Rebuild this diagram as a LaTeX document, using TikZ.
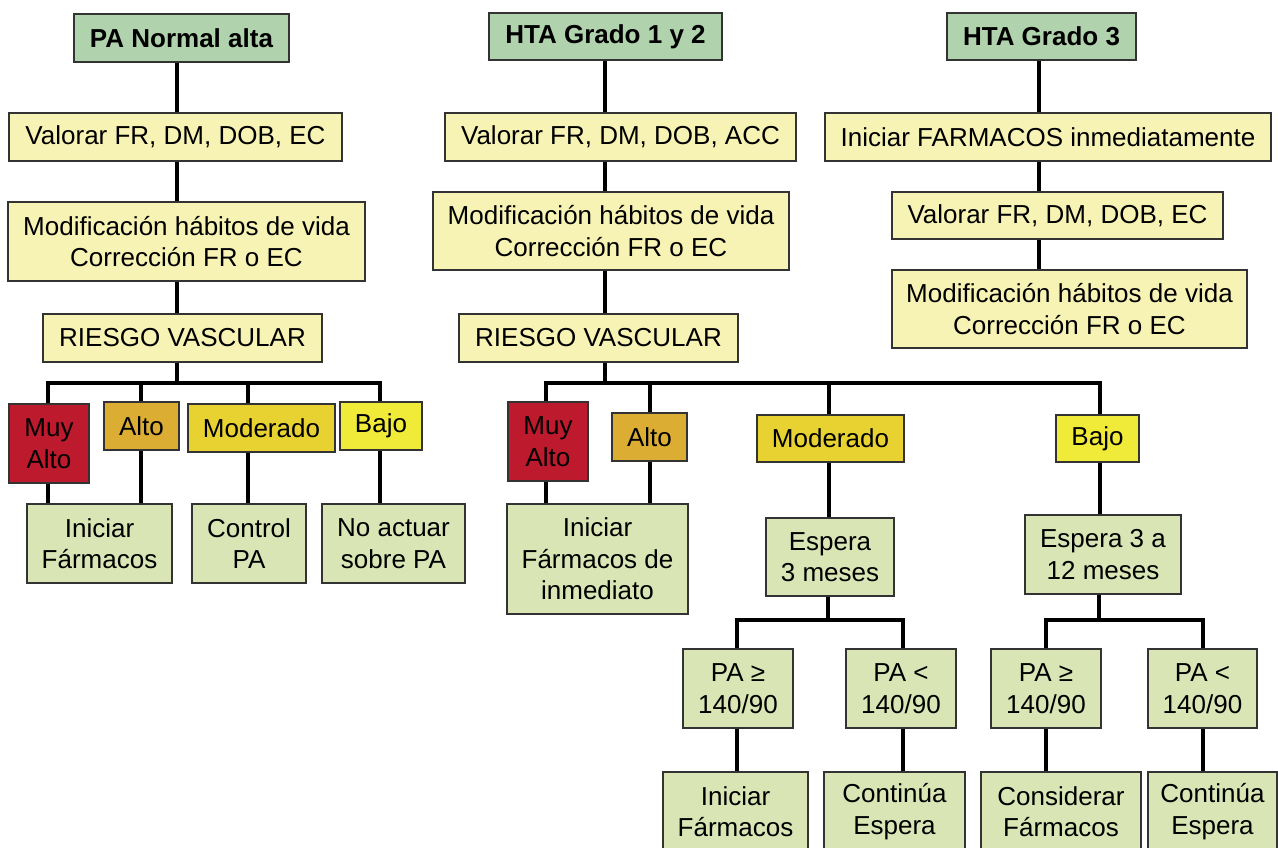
\documentclass[tikz,border=0pt]{standalone}
\usepackage{fontspec}
\setmainfont{Liberation Sans}
\newcommand{\boxfont}{\fontsize{26}{31.5}\selectfont}
\definecolor{titlegreen}{RGB}{176,210,172}
\definecolor{stepyellow}{RGB}{247,243,180}
\definecolor{resultgreen}{RGB}{217,229,180}
\definecolor{riskred}{RGB}{190,26,46}
\definecolor{riskorange}{RGB}{219,174,51}
\definecolor{riskgold}{RGB}{232,210,50}
\definecolor{risklemon}{RGB}{240,234,56}
\tikzset{
  box/.style={draw=black!80, line width=1.2pt, inner sep=0pt, align=center, font=\boxfont},
  title/.style={box, fill=titlegreen, font=\boxfont\bfseries},
  stepbox/.style={box, fill=stepyellow},
  resbox/.style={box, fill=resultgreen},
  conn/.style={line width=4pt, black, line join=miter},
  sz/.style 2 args={minimum width=#1pt, minimum height=#2pt},
}
\begin{document}
\begin{tikzpicture}[x=1pt, y=-1pt]
\clip (0,0) rectangle (1278,847);
\fill[white] (0,0) rectangle (1278,847);

% ---------- PA normal alta ----------
\node[title, sz={215}{48}] (t1) at (181.5,38) {PA Normal alta};
\node[stepbox, sz={333}{48}] (v1) at (175.5,137) {Valorar FR, DM, DOB, EC};
\node[stepbox, sz={357}{79}] (m1) at (186.5,241.5) {Modificación hábitos de vida\\Corrección FR o EC};
\node[stepbox, sz={279}{48}] (r1) at (182.5,338) {RIESGO VASCULAR};
\node[box, fill=riskred, sz={80}{79}] (a1) at (49,443.5) {Muy\\Alto};
\node[box, fill=riskorange, sz={75}{48}] (b1) at (141.5,426) {Alto};
\node[box, fill=riskgold, sz={147}{48}] (c1) at (261.5,428) {Moderado};
\node[box, fill=risklemon, sz={82}{48}] (d1) at (381,426) {Bajo};
\node[resbox, sz={145}{79}] (e1) at (99.5,543.5) {Iniciar\\Fármacos};
\node[resbox, sz={114}{79}] (f1) at (249,543.5) {Control\\PA};
\node[resbox, sz={143}{79}] (g1) at (393.5,543.5) {No actuar\\sobre PA};

\coordinate (j1) at (177,383);
\coordinate (j1a) at (48,383);
\coordinate (j1b) at (141,383);
\coordinate (j1c) at (248,383);
\coordinate (j1d) at (380,383);
\draw[conn] (t1.south -| j1) -- (v1.north -| j1);
\draw[conn] (v1.south -| j1) -- (m1.north -| j1);
\draw[conn] (m1.south -| j1) -- (r1.north -| j1);
\draw[conn] (r1.south -| j1) -- (j1);
\draw[conn] (a1.north -| j1a) -- (j1a) -- (j1d) -- (d1.north -| j1d);
\draw[conn] (j1b) -- (b1.north -| j1b);
\draw[conn] (j1c) -- (c1.north -| j1c);
\draw[conn] (a1.south -| j1a) -- (e1.north -| j1a);
\draw[conn] (b1.south -| j1b) -- (e1.north -| j1b);
\draw[conn] (c1.south -| j1c) -- (f1.north -| j1c);
\draw[conn] (d1.south -| j1d) -- (g1.north -| j1d);

% ---------- HTA grado 1 y 2 ----------
\node[title, sz={233}{47}] (t2) at (605.5,36.5) {HTA Grado 1 y 2};
\node[stepbox, sz={351}{48}] (v2) at (620.5,137) {Valorar FR, DM, DOB, ACC};
\node[stepbox, sz={356}{78}] (m2) at (611,231) {Modificación hábitos de vida\\Corrección FR o EC};
\node[stepbox, sz={279}{48}] (r2) at (598.5,338) {RIESGO VASCULAR};
\node[box, fill=riskred, sz={80}{79}] (a2) at (548,441.5) {Muy\\Alto};
\node[box, fill=riskorange, sz={75}{48}] (b2) at (649.5,437) {Alto};
\node[box, fill=riskgold, sz={147}{47}] (c2) at (830.5,438.5) {Moderado};
\node[box, fill=risklemon, sz={83}{47}] (d2) at (1097.5,438.5) {Bajo};
\node[resbox, sz={181}{110}] (e2) at (597.5,559) {Iniciar\\Fármacos de\\inmediato};
\node[resbox, sz={128}{78}] (f2) at (830,557) {Espera\\3 meses};
\node[resbox, sz={156}{79}] (g2) at (1103,554.5) {Espera 3 a\\12 meses};
\node[resbox, sz={110}{79}] (h2) at (738,688.5) {PA ≥\\140/90};
\node[resbox, sz={110}{79}] (i2) at (901,688.5) {PA <\\140/90};
\node[resbox, sz={110}{79}] (x2) at (1046,688.5) {PA ≥\\140/90};
\node[resbox, sz={109}{79}] (y2) at (1202.5,688.5) {PA <\\140/90};
\node[resbox, sz={145}{79}] (l2) at (735.5,811.5) {Iniciar\\Fármacos};
\node[resbox, sz={141}{79}] (n2) at (894.5,811.5) {Continúa\\Espera};
\node[resbox, sz={160}{79}] (o2) at (1061,811.5) {Considerar\\Fármacos};
\node[resbox, sz={129}{79}] (p2) at (1212.5,811.5) {Continúa\\Espera};

\coordinate (j2) at (605,383);
\coordinate (j2a) at (546,383);
\coordinate (j2b) at (650,383);
\coordinate (j2c) at (829,383);
\coordinate (j2d) at (1100,383);
\draw[conn] (t2.south -| j2) -- (v2.north -| j2);
\draw[conn] (v2.south -| j2) -- (m2.north -| j2);
\draw[conn] (m2.south -| j2) -- (r2.north -| j2);
\draw[conn] (r2.south -| j2) -- (j2);
\draw[conn] (a2.north -| j2a) -- (j2a) -- (j2d) -- (d2.north -| j2d);
\draw[conn] (j2b) -- (b2.north -| j2b);
\draw[conn] (j2c) -- (c2.north -| j2c);
\draw[conn] (a2.south -| j2a) -- (e2.north -| j2a);
\draw[conn] (b2.south -| j2b) -- (e2.north -| j2b);
\draw[conn] (c2.south -| j2c) -- (f2.north -| j2c);
\draw[conn] (d2.south -| j2d) -- (g2.north -| j2d);

\coordinate (s1) at (828,620);
\coordinate (s1a) at (737,620);
\coordinate (s1b) at (903,620);
\draw[conn] (f2.south -| s1) -- (s1);
\draw[conn] (h2.north -| s1a) -- (s1a) -- (s1b) -- (i2.north -| s1b);
\draw[conn] (h2.south -| s1a) -- (l2.north -| s1a);
\draw[conn] (i2.south -| s1b) -- (n2.north -| s1b);

\coordinate (s2) at (1099,620);
\coordinate (s2a) at (1046,620);
\coordinate (s2b) at (1203,620);
\draw[conn] (g2.south -| s2) -- (s2);
\draw[conn] (x2.north -| s2a) -- (s2a) -- (s2b) -- (y2.north -| s2b);
\draw[conn] (x2.south -| s2a) -- (o2.north -| s2a);
\draw[conn] (y2.south -| s2b) -- (p2.north -| s2b);

% ---------- HTA grado 3 ----------
\node[title, sz={189}{47}] (t3) at (1041.5,36.5) {HTA Grado 3};
\node[stepbox, sz={446}{48}] (v3) at (1048,137) {Iniciar FARMACOS inmediatamente};
\node[stepbox, sz={331}{47}] (w3) at (1057.5,215.5) {Valorar FR, DM, DOB, EC};
\node[stepbox, sz={355}{78}] (m3) at (1069.5,309) {Modificación hábitos de vida\\Corrección FR o EC};

\coordinate (j3) at (1039,0);
\draw[conn] (t3.south -| j3) -- (v3.north -| j3);
\draw[conn] (v3.south -| j3) -- (w3.north -| j3);
\draw[conn] (w3.south -| j3) -- (m3.north -| j3);
\end{tikzpicture}
\end{document}
